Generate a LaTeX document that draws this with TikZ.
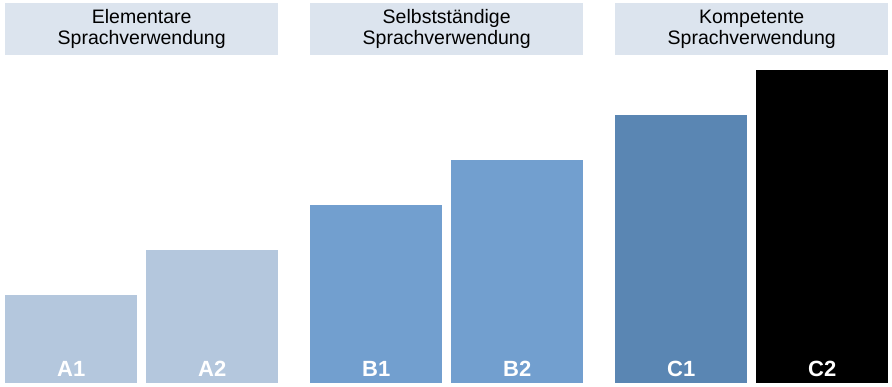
\documentclass[tikz,border=0pt]{standalone}
\usepackage{fontspec}
\setmainfont{Liberation Sans}
\usetikzlibrary{positioning}
\definecolor{paleblue}{RGB}{180,199,221}
\definecolor{midblue}{RGB}{114,159,207}
\definecolor{deepblue}{RGB}{90,134,179}
\definecolor{headgray}{RGB}{220,228,238}
\tikzset{
  head/.style={fill=headgray,minimum width=273pt,minimum height=52pt,inner sep=0pt,
    align=center,anchor=north west,font=\fontsize{19.5}{21}\selectfont},
  bar/.style={fill=#1,minimum width=132pt,inner sep=0pt,anchor=south west},
  bar/.default=paleblue,
  lvl/.style={text=white,anchor=base,font=\fontsize{22}{22}\selectfont\bfseries},
}
\begin{document}
\begin{tikzpicture}[x=1pt,y=-1pt]
  \useasboundingbox (0,0) rectangle (892,387);
  % group headings
  \foreach \t/\x [count=\i] in {Elementare/5,Selbstständige/310,Kompetente/615}
    \node[head] (head\i) at (\x,3) {\t\\Sprachverwendung};
  % level bars
  \foreach \n/\x/\y/\c in {A1/5/295/paleblue,A2/146/250/paleblue,
      B1/310/205/midblue,B2/451/160/midblue,
      C1/615/115/deepblue,C2/756/70/black}
  {
    \pgfmathsetmacro{\h}{383-\y}
    \node[bar=\c,minimum height=\h pt] (\n) at (\x,383) {};
    \node[lvl] (\n-lbl) at ([yshift=6pt]\n.south) {\n};
  }
\end{tikzpicture}
\end{document}
